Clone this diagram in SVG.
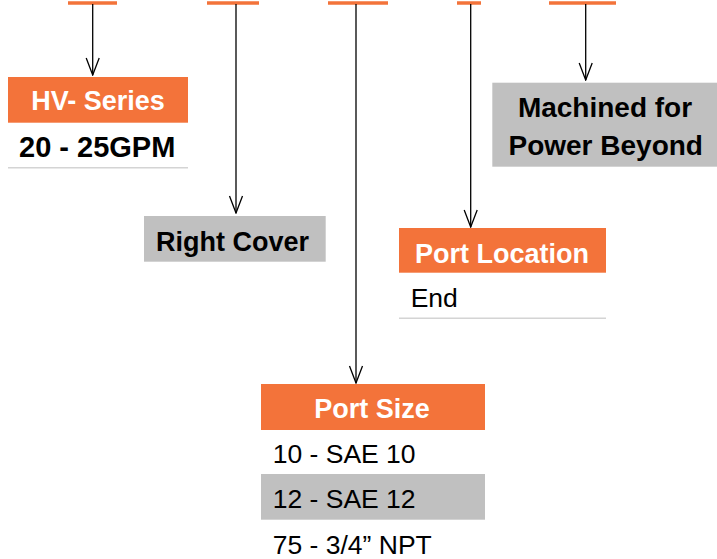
<svg xmlns="http://www.w3.org/2000/svg" width="717" height="559" viewBox="0 0 717 559">
<style>
.tick{stroke:#F3733A;stroke-width:3.5;fill:none}
.conn{stroke:#000;stroke-width:1.3;fill:none}
.orange{fill:#F3733A}
.gray{fill:#C0C0C0}
.rule{stroke:#D4D4D4;stroke-width:1.5}
.hw{font-family:"Liberation Sans",Arial,sans-serif;font-weight:bold;font-size:27px;fill:#fff}
.hb{font-family:"Liberation Sans",Arial,sans-serif;font-weight:bold;font-size:27px;fill:#000}
.rg{font-family:"Liberation Sans",Arial,sans-serif;font-size:26.5px;fill:#000}
</style>
<defs>
<marker id="arr" markerUnits="userSpaceOnUse" markerWidth="20" markerHeight="16" viewBox="-19 -8 20 16" refX="0" refY="0" orient="auto">
<path d="M-17,-6.5 L0,0 L-17,6.5" stroke="#000" stroke-width="1.3" fill="none"/>
</marker>
</defs>
<g id="ticks">
<line class="tick" x1="68" y1="3" x2="117" y2="3"/>
<line class="tick" x1="207" y1="3" x2="259" y2="3"/>
<line class="tick" x1="328" y1="3" x2="388" y2="3"/>
<line class="tick" x1="457" y1="3" x2="481" y2="3"/>
<line class="tick" x1="549" y1="3" x2="616" y2="3"/>
</g>
<g id="connectors">
<line class="conn" x1="92.7" y1="4" x2="92.7" y2="75" marker-end="url(#arr)"/>
<line class="conn" x1="236" y1="4" x2="236" y2="213" marker-end="url(#arr)"/>
<line class="conn" x1="356" y1="4" x2="356" y2="383" marker-end="url(#arr)"/>
<line class="conn" x1="470.7" y1="4" x2="470.7" y2="227" marker-end="url(#arr)"/>
<line class="conn" x1="585.7" y1="4" x2="585.7" y2="80" marker-end="url(#arr)"/>
</g>
<g id="hv-series">
<rect class="orange" x="8" y="77" width="180" height="45.7"/>
<text class="hw" x="98" y="110" text-anchor="middle">HV- Series</text>
<text class="hb" x="19" y="157" style="font-size:29px">20 - 25GPM</text>
<line class="rule" x1="8" y1="167.7" x2="188" y2="167.7"/>
</g>
<g id="right-cover">
<rect class="gray" x="144" y="216" width="181.7" height="45.7"/>
<text class="hb" x="156" y="250.7">Right Cover</text>
</g>
<g id="port-location">
<rect class="orange" x="399" y="228" width="207" height="44.7"/>
<text class="hw" x="415" y="263.3">Port Location</text>
<text class="rg" x="410.7" y="307.3">End</text>
<line class="rule" x1="399" y1="318.3" x2="606" y2="318.3"/>
</g>
<g id="machined">
<rect class="gray" x="492.3" y="82.7" width="224.7" height="84"/>
<text class="hb" x="605" y="116.7" text-anchor="middle" style="font-size:28px">Machined for</text>
<text class="hb" x="605.7" y="155" text-anchor="middle" style="font-size:28px">Power Beyond</text>
</g>
<g id="port-size">
<rect class="orange" x="261" y="384" width="224" height="46"/>
<text class="hw" x="372" y="418" text-anchor="middle">Port Size</text>
<text class="rg" x="272.7" y="463">10 - SAE 10</text>
<rect class="gray" x="261" y="474" width="224" height="45.7"/>
<text class="rg" x="272.7" y="508.3">12 - SAE 12</text>
<text class="rg" x="272.7" y="554">75 - 3/4” NPT</text>
</g>
</svg>
